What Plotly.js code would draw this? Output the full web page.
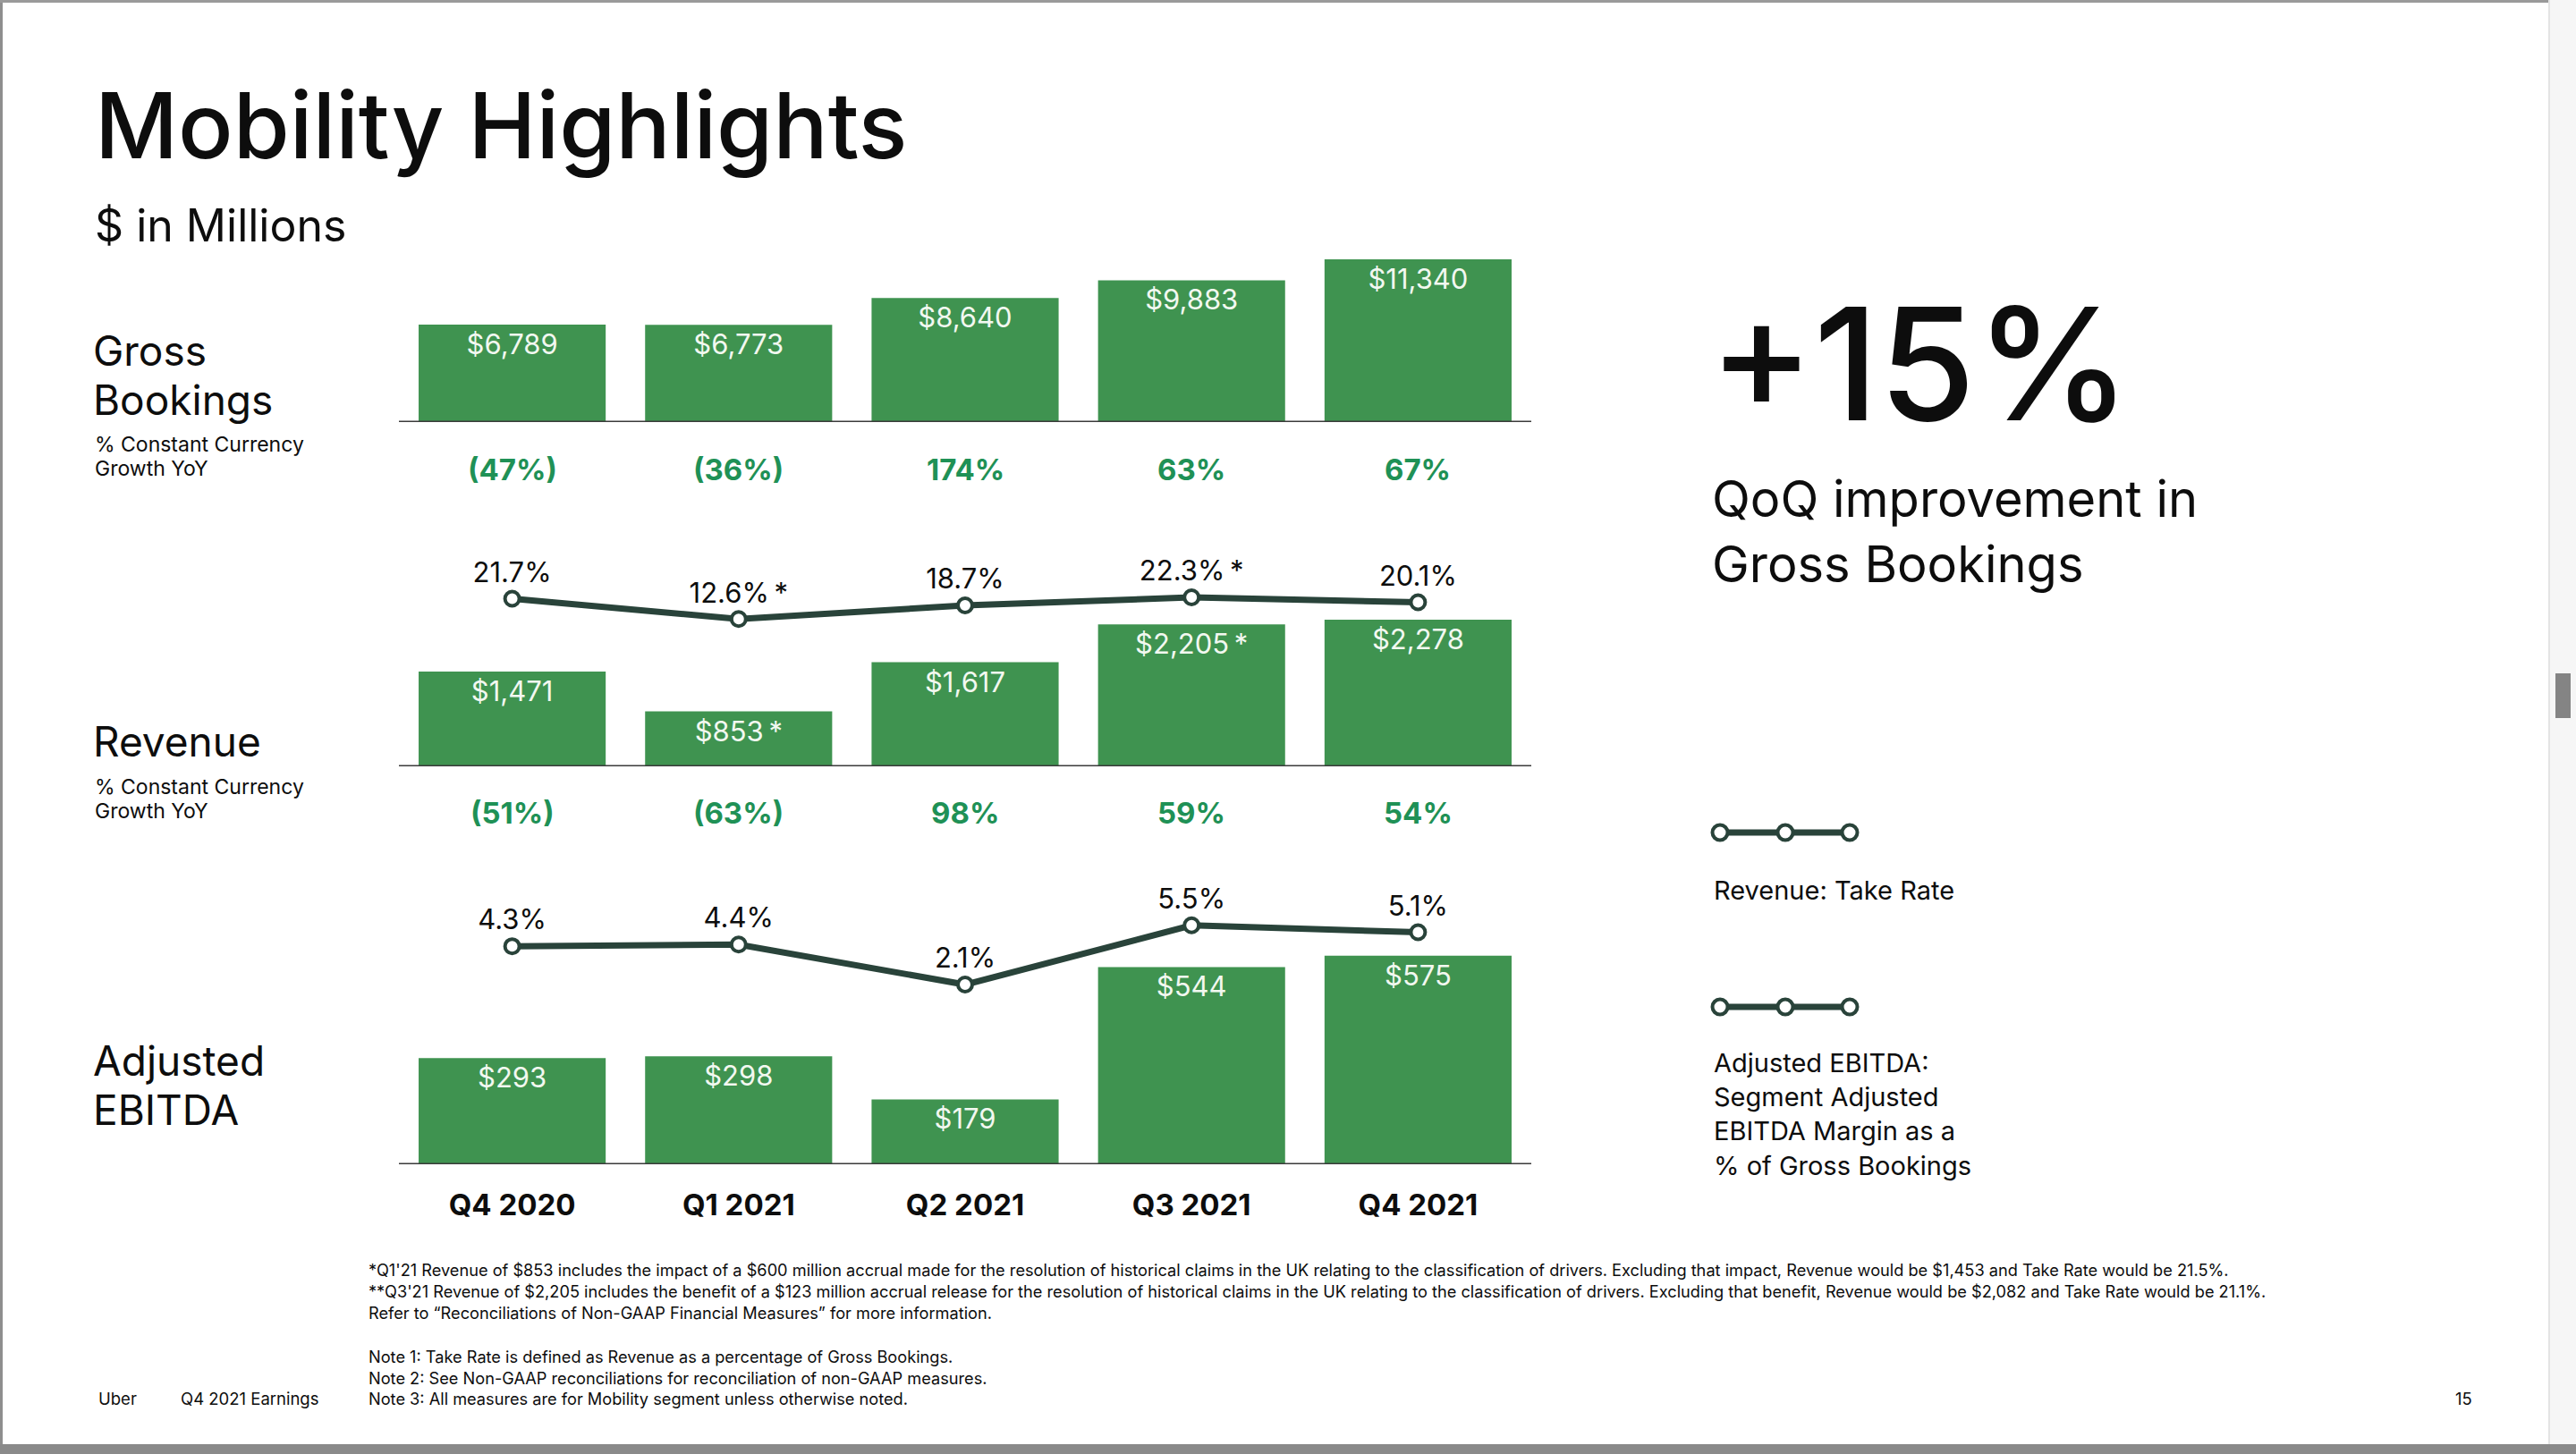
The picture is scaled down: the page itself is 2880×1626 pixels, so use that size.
<!DOCTYPE html>
<html>
<head>
<meta charset="utf-8">
<script src="https://cdn.plot.ly/plotly-3.0.1.min.js"></script>
<style>
  html, body { margin: 0; padding: 0; background: #ffffff; }
  #chart { width: 2880px; height: 1626px; }
</style>
</head>
<body>
<div id="chart"></div>
<script>
// ---------------- DATA ----------------
const categories = ['Q4 2020', 'Q1 2021', 'Q2 2021', 'Q3 2021', 'Q4 2021'];
const grossBookings = [6789, 6773, 8640, 9883, 11340];
const gbGrowth = [-47, -36, 174, 63, 67];
const revenue = [1471, 853, 1617, 2205, 2278];
const revenueFlags = ['', '*', '', '*', ''];
const revGrowth = [-51, -63, 98, 59, 54];
const takeRate = [21.7, 12.6, 18.7, 22.3, 20.1];
const takeRateFlags = ['', '*', '', '*', ''];
const adjEbitda = [293, 298, 179, 544, 575];
const ebitdaMargin = [4.3, 4.4, 2.1, 5.5, 5.1];

const footnotes = [
  "*Q1'21 Revenue of $853 includes the impact of a $600 million accrual made for the resolution of historical claims in the UK relating to the classification of drivers. Excluding that impact, Revenue would be $1,453 and Take Rate would be 21.5%.",
  "**Q3'21 Revenue of $2,205 includes the benefit of a $123 million accrual release for the resolution of historical claims in the UK relating to the classification of drivers. Excluding that benefit, Revenue would be $2,082 and Take Rate would be 21.1%.",
  "Refer to \u201cReconciliations of Non-GAAP Financial Measures\u201d for more information."
];
const notes = [
  "Note 1: Take Rate is defined as Revenue as a percentage of Gross Bookings.",
  "Note 2: See Non-GAAP reconciliations for reconciliation of non-GAAP measures.",
  "Note 3: All measures are for Mobility segment unless otherwise noted."
];

// ---------------- HELPERS ----------------
const W = 2880, H = 1626;
const px = v => v / W;
const py = v => 1 - v / H;
const FONT = 'Inter, "Open Sans", Roboto, sans-serif';
const BAR = '#3f9350';
const LINE = '#29433a';
const GREEN_TXT = '#1f9156';
const INK = '#0d0d0d';

const money = v => '$' + v.toLocaleString('en-US');
const pct1 = v => v.toFixed(1) + '%';
const growth = v => v < 0 ? '(' + Math.abs(v) + '%)' : v + '%';
const withFlag = (s, f) => f ? s + '\u2009' + f : s;

// ---------------- TRACES ----------------
const barCommon = {
  type: 'bar',
  x: categories,
  width: 0.826,
  marker: { color: BAR, line: { width: 0 } },
  textposition: 'inside',
  insidetextanchor: 'end',
  textangle: 0,
  constraintext: 'none',
  insidetextfont: { family: FONT, size: 31, color: '#f2f8f0' },
  hoverinfo: 'skip',
  cliponaxis: false
};

const lineCommon = {
  type: 'scatter',
  mode: 'lines+markers+text',
  x: categories,
  line: { color: LINE, width: 7 },
  marker: { size: 16, color: '#ffffff', line: { color: LINE, width: 4 } },
  textposition: 'top center',
  textfont: { family: FONT, size: 31, color: INK },
  hoverinfo: 'skip',
  cliponaxis: false
};

const traces = [
  Object.assign({}, barCommon, {
    y: grossBookings, yaxis: 'y',
    text: grossBookings.map(money)
  }),
  Object.assign({}, barCommon, {
    y: revenue, yaxis: 'y2',
    text: revenue.map((v, i) => withFlag(money(v), revenueFlags[i]))
  }),
  Object.assign({}, barCommon, {
    y: adjEbitda, yaxis: 'y3',
    text: adjEbitda.map(money)
  }),
  Object.assign({}, lineCommon, {
    y: takeRate, yaxis: 'y4',
    text: takeRate.map((v, i) => withFlag(pct1(v), takeRateFlags[i]))
  }),
  Object.assign({}, lineCommon, {
    y: ebitdaMargin, yaxis: 'y5',
    text: ebitdaMargin.map(pct1)
  })
];

// ---------------- ANNOTATIONS ----------------
const ann = [];
function txt(text, x, y, size, opts) {
  ann.push(Object.assign({
    text: text, xref: 'paper', yref: 'paper', x: px(x), y: py(y),
    xanchor: 'left', yanchor: 'middle', showarrow: false,
    font: { family: FONT, size: size, color: INK }
  }, opts || {}));
}

txt('Mobility Highlights', 104, 140, 102, { font: { family: FONT, size: 102, color: INK, weight: 500 } });
txt('$ in Millions', 104, 252, 50);

txt('Gross', 102, 392, 46);
txt('Bookings', 102, 447, 46);
txt('% Constant Currency', 104, 497, 23);
txt('Growth YoY', 104, 524, 23);

txt('Revenue', 102, 829, 46);
txt('% Constant Currency', 104, 880, 23);
txt('Growth YoY', 104, 907, 23);

txt('Adjusted', 102, 1186, 46);
txt('EBITDA', 102, 1241, 46);

txt('+15%', 1909, 406, 175, { font: { family: FONT, size: 175, color: INK, weight: 500 } });
txt('QoQ improvement in', 1912, 558, 56);
txt('Gross Bookings', 1912, 631, 56);

txt('Revenue: Take Rate', 1914, 995, 29);
txt('Adjusted EBITDA:', 1914, 1188, 29);
txt('Segment Adjusted', 1914, 1226, 29);
txt('EBITDA Margin as a', 1914, 1264, 29);
txt('% of Gross Bookings', 1914, 1303, 29);

footnotes.forEach((t, i) => txt(t, 410, 1420 + i * 24, 18.2));
notes.forEach((t, i) => txt(t, 410, 1517 + i * 23.5, 18.2));
txt('Uber', 108, 1564, 18.5);
txt('Q4 2021 Earnings', 200, 1564, 18.5);
txt('15', 2743, 1564, 18.5);

// growth rows
gbGrowth.forEach((v, i) => ann.push({
  text: growth(v), xref: 'x', yref: 'paper', x: categories[i], y: py(525),
  xanchor: 'center', yanchor: 'middle', showarrow: false,
  font: { family: FONT, size: 33, color: GREEN_TXT, weight: 700 }
}));
revGrowth.forEach((v, i) => ann.push({
  text: growth(v), xref: 'x', yref: 'paper', x: categories[i], y: py(909),
  xanchor: 'center', yanchor: 'middle', showarrow: false,
  font: { family: FONT, size: 33, color: GREEN_TXT, weight: 700 }
}));

// ---------------- SHAPES ----------------
const shapes = [];
['y', 'y2', 'y3'].forEach(ax => shapes.push({
  type: 'line', xref: 'x domain', x0: 0, x1: 1, yref: ax, y0: 0, y1: 0,
  line: { color: '#3b3b3b', width: 3 }, layer: 'above'
}));
// legend glyphs
[931, 1126].forEach(cy => {
  shapes.push({ type: 'line', xref: 'paper', yref: 'paper',
    x0: px(1923), x1: px(2068), y0: py(cy), y1: py(cy),
    line: { color: LINE, width: 7 } });
  [1923, 1996, 2068].forEach(cx => shapes.push({
    type: 'circle', xref: 'paper', yref: 'paper',
    x0: px(cx - 8.5), x1: px(cx + 8.5), y0: py(cy + 8.5), y1: py(cy - 8.5),
    fillcolor: '#ffffff', line: { color: LINE, width: 4 } }));
});
// viewer frame
shapes.push({ type: 'rect', xref: 'paper', yref: 'paper', x0: 0, x1: px(3), y0: 0, y1: 1,
  fillcolor: '#8e8e8e', line: { width: 0 } });
shapes.push({ type: 'rect', xref: 'paper', yref: 'paper', x0: 0, x1: 1, y0: py(3), y1: 1,
  fillcolor: '#9a9a9a', line: { width: 0 } });
shapes.push({ type: 'rect', xref: 'paper', yref: 'paper', x0: px(2850), x1: 1, y0: 0, y1: 1,
  fillcolor: '#f6f6f6', line: { width: 0 } });
shapes.push({ type: 'line', xref: 'paper', yref: 'paper', x0: px(2850), x1: px(2850), y0: 0, y1: 1,
  line: { color: '#e4e4e4', width: 2 } });
shapes.push({ type: 'rect', xref: 'paper', yref: 'paper', x0: px(2857), x1: px(2874), y0: py(803), y1: py(753),
  fillcolor: '#848484', line: { width: 0 } });
shapes.push({ type: 'rect', xref: 'paper', yref: 'paper', x0: 0, x1: 1, y0: 0, y1: py(1615),
  fillcolor: '#8a8a8a', line: { width: 0 } });

// ---------------- LAYOUT ----------------
const hiddenY = (domTop, domBottom, range) => ({
  domain: [py(domBottom), py(domTop)], range: range, visible: false,
  fixedrange: true, anchor: 'x', showgrid: false, zeroline: false
});

const layout = {
  width: W, height: H,
  margin: { l: 0, r: 0, t: 0, b: 0, pad: 0 },
  paper_bgcolor: '#ffffff', plot_bgcolor: 'rgba(0,0,0,0)',
  showlegend: false, hovermode: false,
  font: { family: FONT, color: INK },
  xaxis: {
    domain: [px(446), px(1712)], type: 'category', range: [-0.5, 4.5],
    anchor: 'y3', showline: false, showgrid: false, zeroline: false,
    ticks: 'outside', ticklen: 16, tickcolor: 'rgba(0,0,0,0)',
    tickfont: { family: FONT, size: 33, color: INK, weight: 700 },
    fixedrange: true
  },
  yaxis: hiddenY(272, 472, [0, 200 / 0.01605]),
  yaxis2: hiddenY(677, 857, [0, 180 / 0.0720]),
  yaxis3: hiddenY(1052, 1302, [0, 250 / 0.4055]),
  yaxis4: hiddenY(598.75, 723.75, [0, 50]),
  yaxis5: hiddenY(947, 1142, [0, 10]),
  annotations: ann,
  shapes: shapes
};

Plotly.newPlot('chart', traces, layout, { staticPlot: true, displayModeBar: false });
</script>
</body>
</html>
